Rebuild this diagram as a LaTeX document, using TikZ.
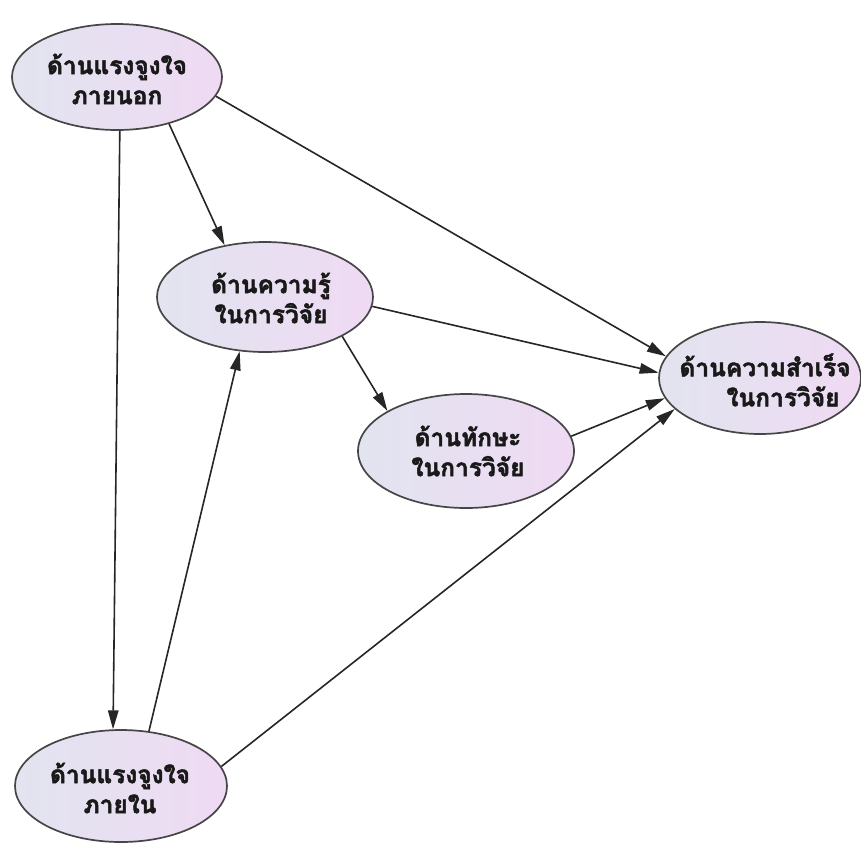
\documentclass[tikz,border=0pt]{standalone}
\usepackage{fontspec}
\newfontfamily\thaifont[Script=Thai, BoldFeatures={FakeBold=2}]{Loma}
\usetikzlibrary{arrows.meta,shapes.geometric}
\definecolor{ellL}{RGB}{226,228,240}
\definecolor{ellR}{RGB}{239,218,243}
\definecolor{edgegray}{RGB}{70,70,70}
\definecolor{txt}{RGB}{25,25,25}
\begin{document}
\begin{tikzpicture}[x=1pt,y=-1pt,
  ell/.style={ellipse, draw=edgegray, line width=1.7pt, left color=ellL, right color=ellR, inner sep=0pt},
  lbl/.style={align=center, text=txt, font=\thaifont\bfseries\fontsize{24.5}{30}\selectfont, inner sep=0pt},
  arr/.style={draw=black!85, line width=1.6pt, -{Triangle[length=19pt,width=10.5pt]}}]
\useasboundingbox (0,0) rectangle (861,844);
\fill[white] (0,0) rectangle (861,844);

\node[ell, minimum width=210pt, minimum height=106pt] (e1) at (117,77) {};
\node[ell, minimum width=216pt, minimum height=110pt] (e2) at (265,297) {};
\node[ell, minimum width=216pt, minimum height=114pt] (e3) at (466,451) {};
\node[ell, minimum width=202pt, minimum height=112pt] (e4) at (760,378) {};
\node[ell, minimum width=212pt, minimum height=112pt] (e5) at (121,786) {};

\node[lbl] (t1) at (117,79) {ด้านแรงจูงใจ\\ภายนอก};
\node[lbl] (t2) at (271,298) {ด้านความรู้\\ในการวิจัย};
\node[lbl] (t3) at (468,451) {ด้านทักษะ\\ในการวิจัย};
\node[lbl] (t4) at (765,380) {ด้านความสำเร็จ\\\hspace*{36pt}ในการวิจัย};
\node[lbl] (t5) at (120,788) {ด้านแรงจูงใจ\\ภายใน};

\draw[arr] (e1.-87) -- (e5.98);
\draw[arr] (e1.-42) -- (e2.128);
\draw[arr] (e1.-11) -- (e4.167);
\draw[arr] (e2.-27) -- (e3.153);
\draw[arr] (e2.-5) -- (e4.177);
\draw[arr] (e3.8) -- (e4.192);
\draw[arr] (e5.63) -- (e2.245);
\draw[arr] (e5.11) -- (e4.200);
\end{tikzpicture}
\end{document}
